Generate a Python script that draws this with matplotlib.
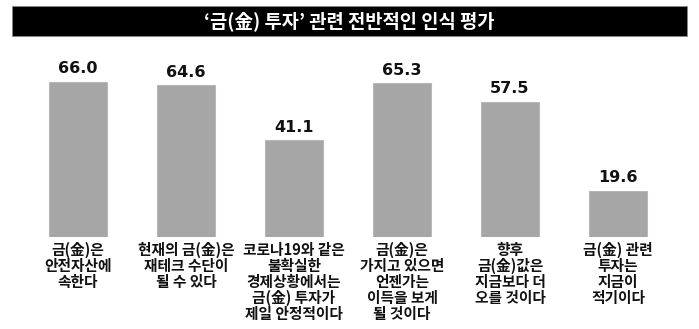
import matplotlib
matplotlib.use("Agg")
import matplotlib.pyplot as plt
from matplotlib.patches import Rectangle

plt.rcParams['font.family'] = ['Noto Sans CJK KR', 'DejaVu Sans']

# ----------------------------- data -----------------------------
title = "‘금(金) 투자’ 관련 전반적인 인식 평가"
categories = [
    "금(金)은\n안전자산에\n속한다",
    "현재의 금(金)은\n재테크 수단이\n될 수 있다",
    "코로나19와 같은\n불확실한\n경제상황에서는\n금(金) 투자가\n제일 안정적이다",
    "금(金)은\n가지고 있으면\n언젠가는\n이득을 보게\n될 것이다",
    "향후\n금(金)값은\n지금보다 더\n오를 것이다",
    "금(金) 관련\n투자는\n지금이\n적기이다",
]
values = [66.0, 64.6, 41.1, 65.3, 57.5, 19.6]

W, H = 699, 329
fig = plt.figure(figsize=(W / 100, H / 100), dpi=100)

# title bar (black band across the top)
fig.patches.append(Rectangle((12 / W, (H - 36) / H), 675 / W, 30 / H,
                             transform=fig.transFigure, facecolor="black",
                             edgecolor="#888888", linewidth=0.6))
fig.text(0.5, (H - 21.5) / H, title, color="white", fontsize=13.5,
         ha="center", va="center", fontweight="bold")

# plotting area: bars sit on y=237px, 108px spacing
ax = fig.add_axes([24 / W, (H - 237) / H, 648 / W, 197 / H])
x = list(range(len(values)))
ax.bar(x, values, width=0.53, color="#a6a6a6", edgecolor="#b8b8b8", linewidth=0.8)
ax.set_xlim(-0.5, len(values) - 0.5)
ax.set_ylim(0, 83.8)
ax.axis("off")

for xi, v in zip(x, values):
    ax.annotate(f"{v:.1f}", (xi, v), xytext=(0, 4), textcoords="offset points",
                ha="center", va="bottom", fontsize=11.5, fontweight="bold",
                family=["DejaVu Sans"], color="#111111")

for xi, lab in zip(x, categories):
    ax.annotate(lab, (xi, 0), xytext=(0, -3.5), textcoords="offset points",
                ha="center", va="top", fontsize=10.6, fontweight="bold",
                linespacing=1.0, color="#111111", annotation_clip=False)

fig.savefig("out.png", dpi=100)
